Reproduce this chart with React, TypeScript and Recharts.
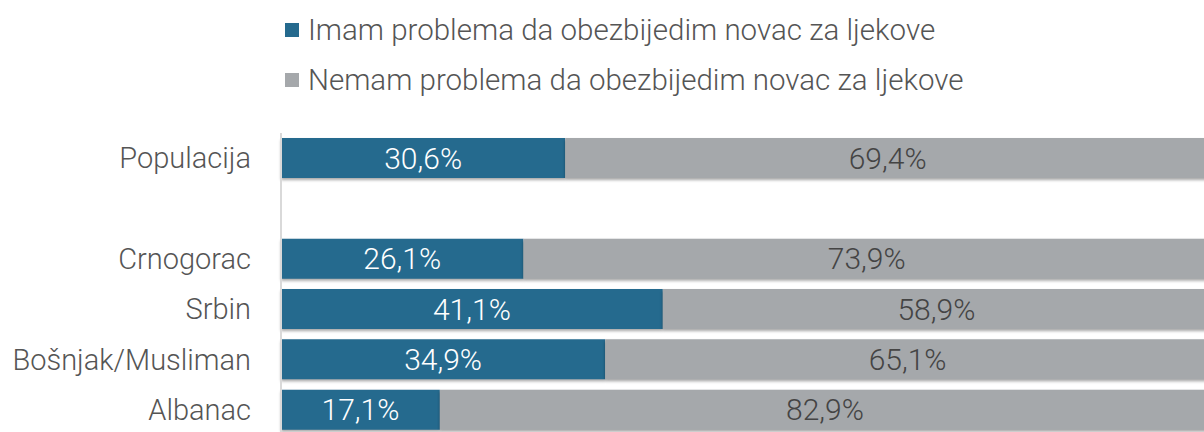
import React from 'react';
import { BarChart, Bar, XAxis, YAxis, LabelList, Rectangle } from 'recharts';

const categories = ['Populacija', ' ', 'Crnogorac', 'Srbin', 'Bošnjak/Musliman', 'Albanac'];
const imamValues: (number | null)[] = [30.6, null, 26.1, 41.1, 34.9, 17.1];
const nemamValues: (number | null)[] = [69.4, null, 73.9, 58.9, 65.1, 82.9];
const seriesNames = ['Imam problema da obezbijedim novac za ljekove', 'Nemam problema da obezbijedim novac za ljekove'];

const data = categories.map((c, i) => ({ name: c, imam: imamValues[i], nemam: nemamValues[i] }));

const BLUE = '#256A8E';
const GRAY = '#A5A8AB';
const FONT = 'Roboto, sans-serif';

const fmt = (v: any) => (v == null ? '' : `${Number(v).toFixed(1).replace('.', ',')}%`);

const ShadowBar = (props: any) => (
  <Rectangle {...props} style={{ filter: 'drop-shadow(0px 2px 1.5px rgba(0,0,0,0.35))' }} />
);

export default function App() {
  return (
    <div style={{ position: 'absolute', left: 0, top: 0, width: 1204, height: 432, overflow: 'hidden', background: '#fff', fontFamily: FONT }}>
      <div style={{ position: 'absolute', left: 285, top: 11, zIndex: 2 }}>
        {[BLUE, GRAY].map((col, i) => (
          <div key={i} style={{ display: 'flex', alignItems: 'center', height: 38, marginBottom: 12 }}>
            <div style={{ width: 14, height: 14, background: col, marginRight: 9 }} />
            <span style={{ fontSize: 29.5, fontWeight: 300, color: '#555', whiteSpace: 'nowrap' }}>{seriesNames[i]}</span>
          </div>
        ))}
      </div>
      <BarChart
        width={1210}
        height={440}
        data={data}
        layout="vertical"
        margin={{ top: 133, right: 0, left: 0, bottom: 5 }}
        barCategoryGap="10%"
      >
        <XAxis type="number" domain={[0, 100]} hide />
        <YAxis
          type="category"
          dataKey="name"
          width={281}
          tickLine={false}
          tickSize={0}
          tickMargin={30}
          axisLine={{ stroke: '#D9D9D9', strokeWidth: 2 }}
          tick={{ fontSize: 29, fontWeight: 300, fill: '#555', fontFamily: FONT }}
          interval={0}
        />
        <Bar dataKey="imam" stackId="a" fill={BLUE} isAnimationActive={false} shape={ShadowBar}>
          <LabelList dataKey="imam" position="center" formatter={fmt} style={{ fontSize: 30, fontWeight: 300, fill: '#fff', fontFamily: FONT }} />
        </Bar>
        <Bar dataKey="nemam" stackId="a" fill={GRAY} isAnimationActive={false} shape={ShadowBar}>
          <LabelList dataKey="nemam" position="center" formatter={fmt} style={{ fontSize: 30, fontWeight: 300, fill: '#444', fontFamily: FONT }} />
        </Bar>
      </BarChart>
    </div>
  );
}
